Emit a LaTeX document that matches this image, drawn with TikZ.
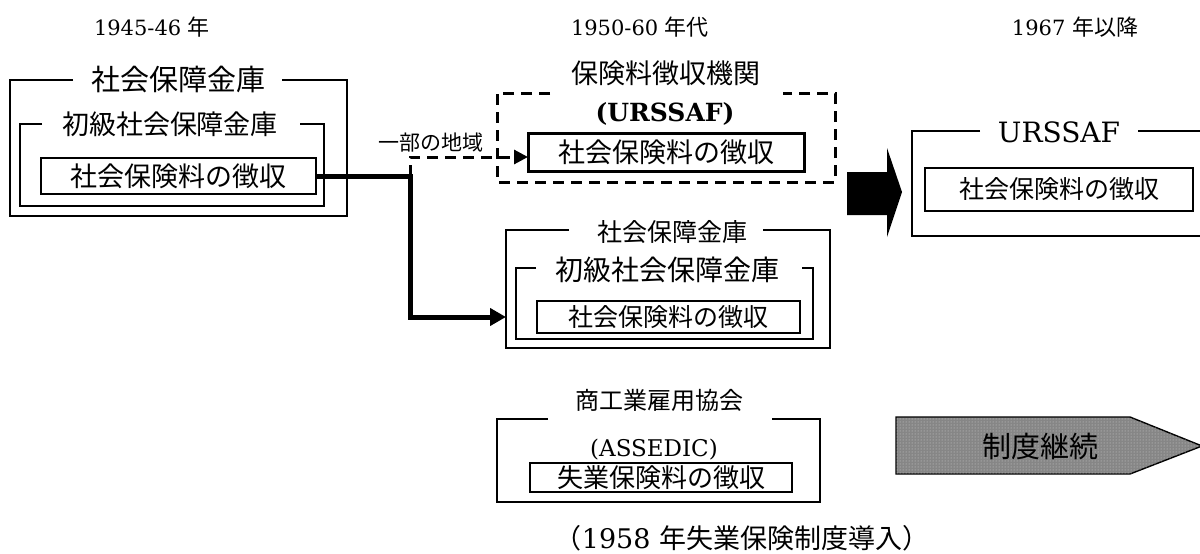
\documentclass[tikz,border=0pt]{standalone}
\usepackage{fontspec}
\setmainfont{DejaVu Serif}
\newfontfamily\jp{Noto Sans CJK JP}
\usetikzlibrary{arrows.meta,patterns,calc}
\newcommand\fsz[1]{\fontsize{#1}{#1}\selectfont}
\begin{document}
\begin{tikzpicture}[x=1pt,y=-1pt,
  every node/.style={inner sep=0pt,outer sep=0pt},
  frame/.style={draw,line width=2pt},
  dframe/.style={draw,line width=3pt,dash pattern=on 11pt off 7pt},
  tbox/.style={draw,line width=2pt},
  ghost/.style={draw=none}]
\useasboundingbox (0,0) rectangle (1200,554);
\fill[white] (0,0) rectangle (1200,554);

% period labels
\node (p1) at (152,27) {\fsz{21}1945-46 {\jp\fsz{22}年}};
\node (p2) at (640,27) {\fsz{21}1950-60 {\jp\fsz{22}年代}};
\node (p3) at (1075,27) {\fsz{21}1967 {\jp\fsz{22}年以降}};

% left group
\draw[frame] (73,80) -- (10,80) -- (10,216) -- (347,216) -- (347,80) -- (282,80);
\node (ltitle) at (178,80) {\jp\fsz{29}社会保障金庫};
\draw[frame] (42,124) -- (20,124) -- (20,206) -- (324,206) -- (324,124) -- (300,124);
\node (lsub) at (170,124) {\jp\fsz{27}初級社会保障金庫};
\node[tbox,line width=2.4pt,minimum width=275pt,minimum height=36pt] (lin) at (178.5,176) {\jp\fsz{27}社会保険料の徴収};

% middle URSSAF (dashed)
\draw[dframe] (550,93) -- (497,93) -- (497,182) -- (835,182) -- (835,93) -- (783,93);
\node (utitle) at (666,73) {\jp\fsz{27}保険料徴収機関};
\node (uabbr) at (665,114) {\fsz{25}\bfseries (URSSAF)};
\node[tbox,line width=3pt,minimum width=276pt,minimum height=38pt] (uin) at (666,152) {\jp\fsz{27}社会保険料の徴収};

% middle caisse
\node[ghost,minimum width=324pt,minimum height=118pt] (mo) at (668,289) {};
\draw[frame] (569,230) -- (506,230) -- (506,348) -- (830,348) -- (830,230) -- (763,230);
\node (mtitle) at (672,232) {\jp\fsz{25}社会保障金庫};
\draw[frame] (536,268) -- (516,268) -- (516,339) -- (813,339) -- (813,268) -- (802,268);
\node (msub) at (667,270) {\jp\fsz{28}初級社会保障金庫};
\node[tbox,minimum width=263pt,minimum height=32pt] (min) at (668.5,317) {\jp\fsz{25}社会保険料の徴収};

% ASSEDIC
\draw[frame] (548,419) -- (497,419) -- (497,502) -- (820,502) -- (820,419) -- (772,419);
\node (atitle) at (659,400) {\jp\fsz{24}商工業雇用協会};
\node (aabbr) at (654,450) {\fsz{23}(ASSEDIC)};
\node[tbox,line width=1.6pt,minimum width=262pt,minimum height=29pt] (ain) at (661,477.5) {\jp\fsz{26}失業保険料の徴収};
\node (anote) at (742,538) {\fsz{27}{\jp （}1958 {\jp 年失業保険制度導入）}};

% right URSSAF
\draw[frame] (980,131) -- (912,131) -- (912,236) -- (1202,236);
\draw[frame] (1138,131) -- (1202,131);
\node (rtitle) at (1059,132) {\fsz{28}URSSAF};
\node[tbox,minimum width=268pt,minimum height=43pt] (rin) at (1059,189.5) {\jp\fsz{25}社会保険料の徴収};

% black block arrow
\fill[black] (847,172) -- (887,172) -- (887,148) -- (902,192) -- (887,237) -- (887,215) -- (847,215) -- cycle;

% grey continuation arrow
\filldraw[draw=black,line width=1.4pt,fill=gray!95] (896,417) -- (1130,417) -- (1202,446) -- (1130,474) -- (896,474) -- cycle;
\fill[pattern=dots,pattern color=gray!35] (896,417) -- (1130,417) -- (1202,446) -- (1130,474) -- (896,474) -- cycle;
\node (cont) at (1040,446) {\jp\fsz{29}制度継続};

% connectors
\coordinate (jct) at (410,176);
\draw[line width=5pt,-{Triangle[length=16pt,width=17pt]}] (lin.east) -- (jct) |- (min -| mo.west);
\draw[line width=3pt,dash pattern=on 11pt off 7pt,-{Triangle[length=14pt,width=14pt]}] (jct) |- ($(uin.west)+(0,5)$);
\node (part) at (431,143) {\jp\fsz{21}一部の地域};
\end{tikzpicture}
\end{document}
